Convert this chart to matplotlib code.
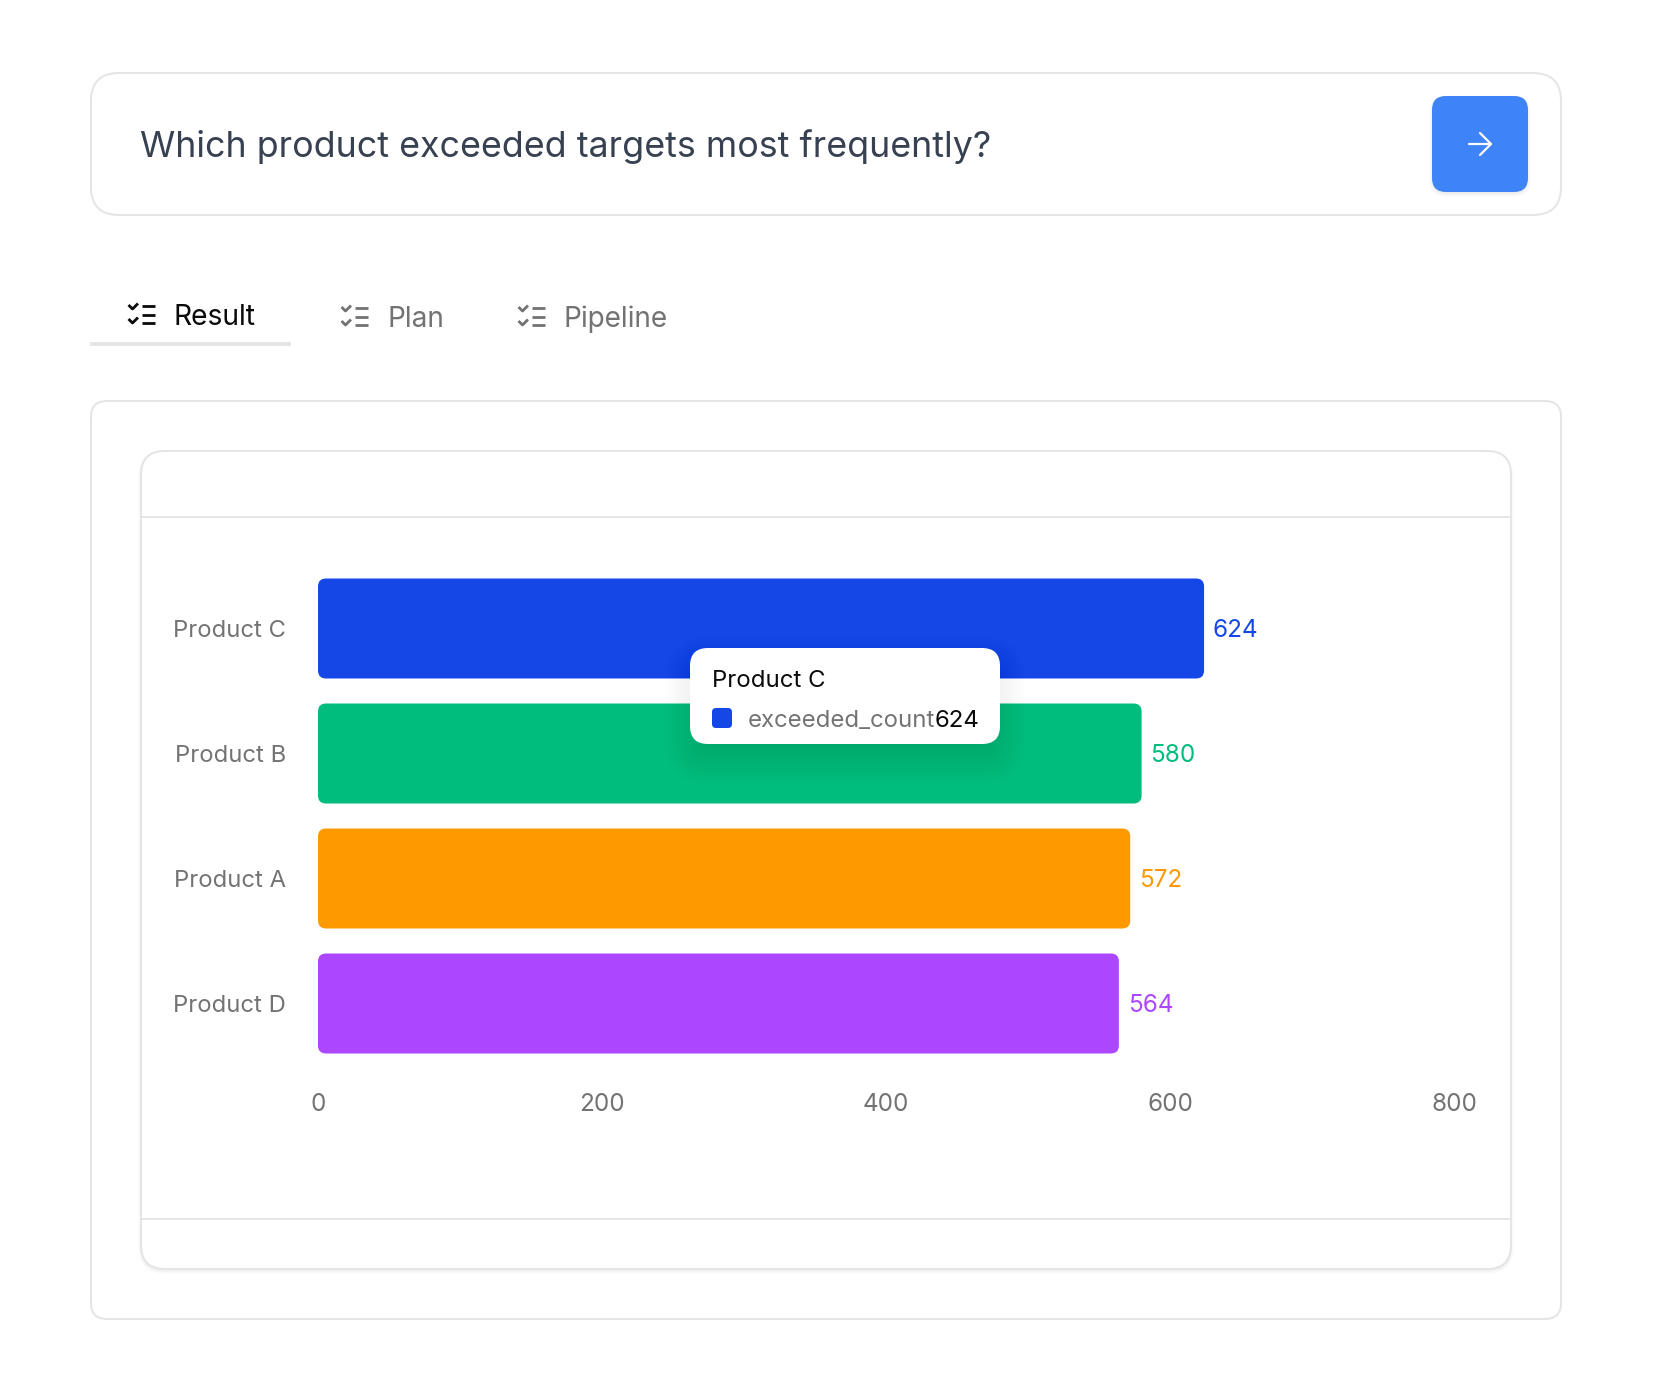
import matplotlib
matplotlib.use("Agg")
import matplotlib.pyplot as plt
from matplotlib.patches import FancyBboxPatch, Rectangle

plt.rcParams['font.family'] = ['Inter', 'DejaVu Sans']

W, H = 1664, 1388
PX = 0.72  # px -> pt at dpi 100

question = "Which product exceeded targets most frequently?"
tabs = ["Result", "Plan", "Pipeline"]
products = ["Product C", "Product B", "Product A", "Product D"]
exceeded_count = [624, 580, 572, 564]
bar_colors = ["#1447E6", "#00BC7D", "#FE9A00", "#AD46FF"]
x_ticks = [0, 200, 400, 600, 800]
series_name = "exceeded_count"

BORDER = "#e5e5e5"
GREY = "#737373"
DARK = "#0a0a0a"

fig = plt.figure(figsize=(W / 100, H / 100), dpi=100, facecolor="white")


def overlay(z):
    a = fig.add_axes([0, 0, 1, 1], zorder=z)
    a.set_xlim(0, W)
    a.set_ylim(H, 0)
    a.axis("off")
    a.patch.set_alpha(0)
    return a


def rbox(a, x0, y0, x1, y1, r, fc="white", ec="none", lw=0, z=1, alpha=None):
    p = FancyBboxPatch((x0, y0), x1 - x0, y1 - y0,
                       boxstyle=f"round,pad=0,rounding_size={r}",
                       fc=fc, ec=ec, lw=lw * PX, zorder=z, alpha=alpha)
    a.add_patch(p)
    return p


def shadow(a, x0, y0, x1, y1, r, dy, spread, alpha, z=0.5, color="black", n=12):
    for k in range(n):
        g = spread * (1 - 2 * k / n)
        rbox(a, x0 - g, y0 - g + dy, x1 + g, y1 + g + dy, max(r + g, 2),
             fc=color, z=z, alpha=alpha / n)


bg = overlay(0)
chart = fig.add_axes([318 / W, 1 - 1066 / H, (1454 - 318) / W, 500 / H], zorder=1)
fg = overlay(2)

# Question box
rbox(bg, 91, 73, 1561, 215, 28, ec=BORDER, lw=2)
bg.text(140, 143, question, fontsize=35.8 * PX, color="#374151", ha="left",
        va="center_baseline")
shadow(bg, 1432, 96, 1528, 192, 14, 2, 3, 0.08, z=1.5)
rbox(bg, 1432, 96, 1528, 192, 14, fc="#3F83F8", z=2)
bg.plot([1469, 1491], [144, 144], color="white", lw=2.2 * PX, zorder=3, solid_capstyle="round")
bg.plot([1480, 1491, 1480], [133, 144, 155], color="white", lw=2.2 * PX, zorder=3,
        solid_capstyle="round", solid_joinstyle="round")


# Tabs
def list_icon(dx, dy, color):
    for y in (305, 313.5, 322):
        bg.plot([141 + dx, 154 + dx], [y + dy, y + dy], color=color, lw=2.8 * PX,
                solid_capstyle="butt", zorder=3)
    for y in (308, 322):
        bg.plot([128.5 + dx, 131.5 + dx, 136 + dx], [y - 3 + dy, y + dy, y - 4.5 + dy],
                color=color, lw=2.8 * PX, zorder=3)


list_icon(1, 1, DARK)
list_icon(214, 3, GREY)
list_icon(391, 3, GREY)
bg.text(174, 314, tabs[0], fontsize=28.2 * PX, color=DARK, ha="left", va="center_baseline")
bg.text(387, 316, tabs[1], fontsize=28 * PX, color=GREY, ha="left", va="center_baseline")
bg.text(563.5, 316, tabs[2], fontsize=28 * PX, color=GREY, ha="left", va="center_baseline")
bg.add_patch(Rectangle((90, 342), 201, 4, fc=BORDER, ec="none"))

# Panel and card
rbox(bg, 91, 401, 1561, 1319, 16, ec=BORDER, lw=2)
shadow(bg, 141, 451, 1511, 1269, 24, 2, 3, 0.10, z=1.5)
rbox(bg, 141, 451, 1511, 1269, 24, ec=BORDER, lw=2, z=2)
bg.plot([141, 1511], [517, 517], color=BORDER, lw=2 * PX, zorder=3)
bg.plot([141, 1511], [1219, 1219], color=BORDER, lw=2 * PX, zorder=3)

# Chart
chart.set_xlim(x_ticks[0], x_ticks[-1])
chart.set_ylim(len(products) - 0.5, -0.5)
chart.patch.set_alpha(0)
for s in chart.spines.values():
    s.set_visible(False)
r_px = 8
x_unit = (1454 - 318) / (x_ticks[-1] - x_ticks[0])
y_unit = 500 / len(products)
r_x = r_px / x_unit
aspect = (r_px / y_unit) / r_x
for i, (v, c) in enumerate(zip(exceeded_count, bar_colors)):
    chart.add_patch(FancyBboxPatch((0, i - 0.4), v, 0.8,
                                   boxstyle=f"round,pad=0,rounding_size={r_x}",
                                   mutation_aspect=aspect, fc=c, ec="none"))
    chart.annotate(str(v), (v, i), xytext=(8.7 * PX, 0.7 * PX), textcoords="offset points",
                   color=c, fontsize=24.3 * PX, ha="left", va="center_baseline")
chart.set_yticks(range(len(products)), products)
chart.set_xticks(x_ticks, [str(t) for t in x_ticks])
chart.tick_params(axis="y", length=0, pad=32 * PX, labelsize=23.8 * PX, labelcolor=GREY)
chart.tick_params(axis="x", length=0, pad=27 * PX, labelsize=24.3 * PX, labelcolor=GREY)

# Tooltip
shadow(fg, 690, 648, 1000, 744, 20, 14, 26, 0.10, z=0.5, n=24)
rbox(fg, 690, 648, 1000, 744, 18, z=1)
fg.text(712, 678, products[0], fontsize=24 * PX, color=DARK, ha="left", va="center_baseline", zorder=2)
rbox(fg, 712, 708, 732, 728, 4, fc=bar_colors[0], z=2)
fg.text(748, 718, series_name, fontsize=23.9 * PX, color=GREY, ha="left", va="center_baseline", zorder=2)
fg.text(979, 718, str(exceeded_count[0]), fontsize=24 * PX, color=DARK, ha="right", va="center_baseline", zorder=2)

fig.savefig("out.png", dpi=100, facecolor="white")
